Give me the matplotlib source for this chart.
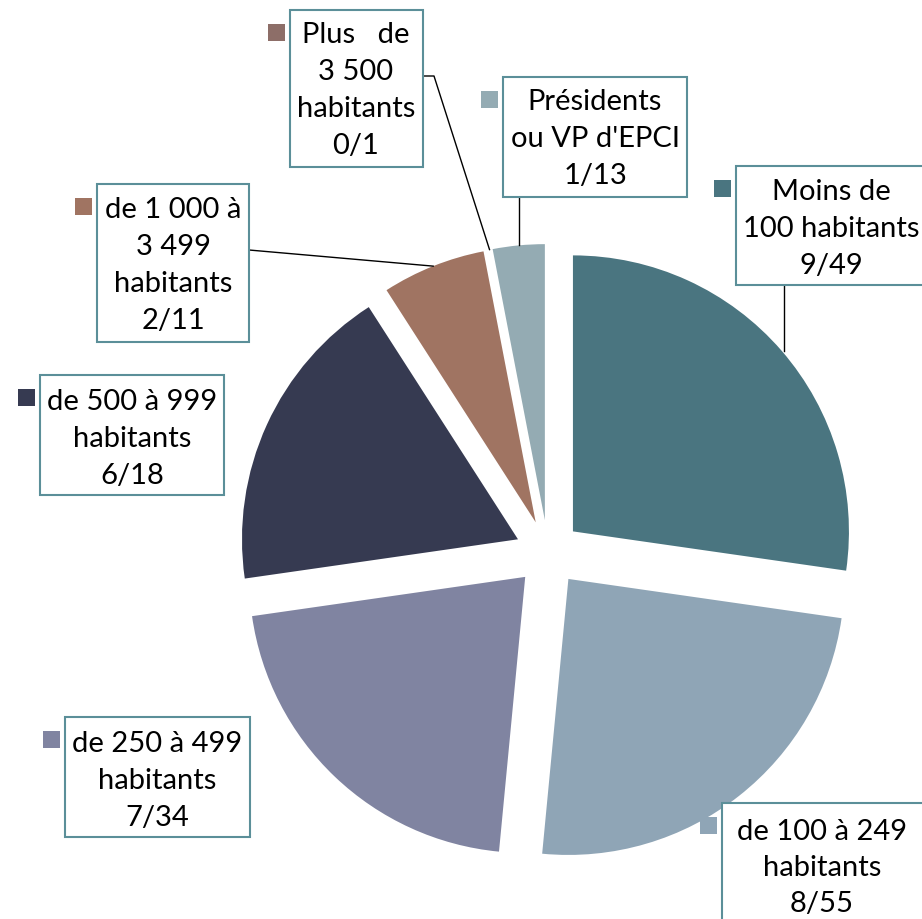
import math
import matplotlib
matplotlib.use('Agg')
import matplotlib.pyplot as plt
from matplotlib.patches import Rectangle

# données du graphique
categories = ['Moins de 100 habitants', 'de 100 à 249 habitants', 'de 250 à 499 habitants',
              'de 500 à 999 habitants', 'de 1 000 à 3 499 habitants', 'Plus de 3 500 habitants',
              "Présidents ou VP d'EPCI"]
elus = [9, 8, 7, 6, 2, 0, 1]
totaux = [49, 55, 34, 18, 11, 1, 13]
colors = ['#4a7580', '#8fa5b6', '#8084a1', '#363a51', '#a07462', '#8d6e68', '#94abb3']

# libellés affichés (retours à la ligne comme dans l'original)
label_lines = [
    ['Moins de', '100 habitants'],
    ['de 100 à 249', 'habitants'],
    ['de 250 à 499', 'habitants'],
    ['de 500 à 999', 'habitants'],
    ['de 1 000 à', '3 499', 'habitants'],
    ['Plus   de', '3 500', 'habitants'],
    ['Présidents', "ou VP d'EPCI"],
]

W, H = 922, 919
plt.rcParams['font.family'] = ['Lato', 'DejaVu Sans']

fig = plt.figure(figsize=(W / 100, H / 100), dpi=100)
ax = fig.add_axes([0, 0, 1, 1])

# centre et rayon du camembert (pixels)
cx, cy, R, expl = 548, 553, 276, 33

wedges, _ = ax.pie(elus, colors=colors, startangle=90, counterclock=False,
                   radius=R, center=(cx, H - cy), explode=[expl] * len(elus),
                   wedgeprops=dict(linewidth=0), frame=True)

ax.set_xlim(0, W)
ax.set_ylim(0, H)
ax.set_aspect('equal')
ax.axis('off')

# position des cadres : (gauche, haut, droite, bas), x du texte, 1re ligne de base
boxes = [
    (736, 166, 926, 285, 831, 200),
    (722, 803, 926, 935, 822, 840),
    (65, 717, 250, 837, 157, 752),
    (40, 375, 224, 495, 132, 410),
    (97, 184, 249, 342, 173, 218),
    (290, 10, 423, 167, 356, 43),
    (503, 77, 687, 197, 595, 110),
]
line_gap = 37

for i, (l, t, r, b, tx, base) in enumerate(boxes):
    ax.add_patch(Rectangle((l, H - b), r - l, b - t, facecolor='white',
                           edgecolor='#5b8f99', linewidth=1.5, zorder=3))
    # petit carré de couleur
    ax.add_patch(Rectangle((l - 22, H - (t + 31)), 17, 17, facecolor=colors[i],
                           edgecolor='none', zorder=3))
    lines = label_lines[i] + [f'{elus[i]}/{totaux[i]}']
    gap = 36 if i == 1 else line_gap
    for j, txt in enumerate(lines):
        ax.text(tx, H - (base + j * gap), txt, ha='center', va='baseline',
                fontsize=21, color='black', zorder=4)


def arc_mid(w):
    # point milieu de l'arc extérieur de la part
    th = math.radians((w.theta1 + w.theta2) / 2)
    return w.center[0] + w.r * math.cos(th), w.center[1] + w.r * math.sin(th)


# traits de rappel : index de la part, points de départ (pixels image)
leaders = {
    0: [(784, 285)],
    4: [(249, 250)],
    5: [(423, 76), (434, 76)],
    6: [(519, 197)],
}
for idx, pts in leaders.items():
    ex, ey = arc_mid(wedges[idx])
    xs = [p[0] for p in pts] + [ex]
    ys = [H - p[1] for p in pts] + [ey]
    if idx in (0, 6):
        xs[-1] = xs[0]
    ax.plot(xs, ys, color='black', linewidth=1.0, zorder=2)

plt.savefig('out.png', dpi=100)
